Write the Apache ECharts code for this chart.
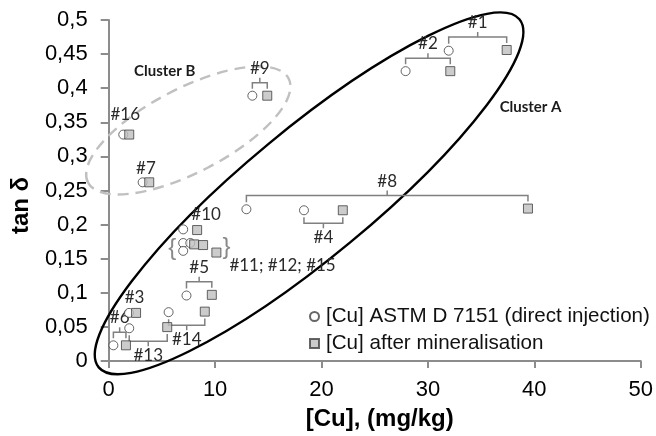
<!DOCTYPE html>
<html>
<head>
<meta charset="utf-8">
<script src="https://cdn.jsdelivr.net/npm/echarts@6/dist/echarts.min.js"></script>
<style>
  html, body { margin: 0; padding: 0; background: #fff; }
  #chart { width: 656px; height: 436px; }
</style>
</head>
<body>
<div id="chart"></div>
<script>
// Samples #1..#16: copper found by direct injection and after mineralisation, vs tan delta
const sampleIds = ['#1', '#2', '#3', '#4', '#5', '#6', '#7', '#8', '#9', '#10', '#11', '#12', '#13', '#14', '#15', '#16'];
const directCu   = [31.95, 27.9, 1.91, 18.35, 7.31, 0.44, 3.19, 12.94, 13.5, 7.0, 7.0, 7.67, 1.93, 5.63, 7.0, 1.37];
const directTan  = [0.455, 0.425, 0.0705, 0.221, 0.096, 0.023, 0.262, 0.2225, 0.389, 0.193, 0.173, 0.173, 0.048, 0.0716, 0.1615, 0.332];
const mineralCu  = [37.4, 32.1, 2.57, 22.0, 9.69, 1.62, 3.81, 39.4, 14.9, 8.31, 8.03, 8.87, 5.5, 9.03, 10.12, 1.93];
const mineralTan = [0.456, 0.425, 0.0705, 0.221, 0.097, 0.023, 0.262, 0.2235, 0.389, 0.192, 0.171, 0.170, 0.0497, 0.0724, 0.159, 0.332];

const seriesNames = ['[Cu] ASTM D 7151 (direct injection)', '[Cu] after mineralisation'];
const xTickLabels = ['0', '10', '20', '30', '40', '50'];
const yTickLabels = ['0', '0,05', '0,1', '0,15', '0,2', '0,25', '0,3', '0,35', '0,4', '0,45', '0,5'];

// Cluster outlines, centred in data units
const clusterNames = ['Cluster A', 'Cluster B'];
const clusterCu  = [18.83, 7.48];
const clusterTan = [0.2458, 0.338];

// ---- annotation layout (pixels) ----
const bracketSide = { '#1': 'up', '#2': 'up', '#4': 'down', '#5': 'up', '#6': 'up', '#8': 'up', '#9': 'up', '#13': 'down', '#14': 'down' };
const plainLabelOffset = { '#3': [2, -15], '#7': [0, -13.5], '#16': [-1, -20], '#10': [16, -15.5] };
const groupedIds = ['#11', '#12', '#15'];
const clusterShape = [
  { rx: 273, ry: 64, angle: 39.6, color: '#000', width: 2.4, dash: null, lx: 221.5, ly: -86 },
  { rx: 113, ry: 42, angle: 27.4, color: '#c0c0c0', width: 2.4, dash: [11, 7], lx: -23.5, ly: -59 }
];

const labelFont = { fontFamily: 'Lato', fontSize: 17, fill: '#2a2a2a' };
const bracketStyle = { stroke: '#808080', lineWidth: 1.5, fill: 'none' };

function text(x, y, str, extra) {
  return {
    type: 'text', x: x, y: y,
    style: Object.assign({ text: str, align: 'center', verticalAlign: 'middle' }, labelFont, extra || {})
  };
}

function renderSampleNote(params, api) {
  const id = sampleIds[params.dataIndex];
  const p1 = api.coord([api.value(0), api.value(1)]);
  const p2 = api.coord([api.value(2), api.value(3)]);
  const children = [];
  const side = bracketSide[id];
  if (side) {
    const dir = side === 'up' ? -1 : 1;
    const yLine = side === 'up' ? Math.min(p1[1], p2[1]) - 13 : Math.max(p1[1], p2[1]) + 13;
    const mid = (p1[0] + p2[0]) / 2;
    children.push({
      type: 'polyline',
      shape: { points: [[p1[0], p1[1] + dir * 7], [p1[0], yLine], [p2[0], yLine], [p2[0], p2[1] + dir * 7]] },
      style: bracketStyle
    });
    children.push({
      type: 'line',
      shape: { x1: mid, y1: yLine, x2: mid, y2: yLine + dir * 5 },
      style: bracketStyle
    });
    children.push(text(mid, yLine + dir * 14.5, id));
  } else if (plainLabelOffset[id]) {
    const off = plainLabelOffset[id];
    children.push(text((p1[0] + p2[0]) / 2 + off[0], (p1[1] + p2[1]) / 2 + off[1], id));
  } else if (id === groupedIds[0]) {
    // one brace pair and one caption for the overlapping group
    const idx = groupedIds.map(g => sampleIds.indexOf(g));
    const pts = [];
    idx.forEach(k => {
      pts.push(api.coord([directCu[k], directTan[k]]));
      pts.push(api.coord([mineralCu[k], mineralTan[k]]));
    });
    const xs = pts.map(p => p[0]), ys = pts.map(p => p[1]);
    const left = Math.min.apply(null, xs), right = Math.max.apply(null, xs);
    const top = Math.min.apply(null, ys), bottom = Math.max.apply(null, ys);
    const cy = (top + bottom) / 2;
    const braceStyle = { fontFamily: 'Liberation Sans', fontSize: 24, fill: '#8a8a8a' };
    children.push(text(left - 11, cy + 1, '{', braceStyle));
    children.push(text(right + 10, cy, '}', braceStyle));
    children.push(text(right + 13, bottom + 12.5, groupedIds.join('; '), { align: 'left' }));
  }
  return { type: 'group', children: children };
}

function renderCluster(params, api) {
  const i = params.dataIndex;
  const s = clusterShape[i];
  const c = api.coord([api.value(0), api.value(1)]);
  return {
    type: 'group',
    children: [
      {
        type: 'ellipse', x: c[0], y: c[1], rotation: s.angle * Math.PI / 180,
        shape: { cx: 0, cy: 0, rx: s.rx, ry: s.ry },
        style: { fill: 'none', stroke: s.color, lineWidth: s.width, lineDash: s.dash }
      },
      text(c[0] + s.lx, c[1] + s.ly, clusterNames[i], { fontFamily: 'Lato', fontWeight: 'bold', fontSize: 15, fill: '#1b1b1b' })
    ]
  };
}

const chart = echarts.init(document.getElementById('chart'), null, { renderer: 'canvas' });

const axisGray = '#8c8c8c';

chart.setOption({
  animation: false,
  backgroundColor: '#fff',
  grid: { left: 108.7, right: 14.3, top: 20, bottom: 73.7, containLabel: false },
  legend: {
    data: seriesNames,
    orient: 'vertical',
    left: 304, top: 301,
    itemWidth: 9, itemHeight: 9, itemGap: 6,
    textStyle: { fontFamily: 'Liberation Sans', fontSize: 20.6, color: '#111', padding: [0, 0, 0, 2] }
  },
  xAxis: {
    type: 'value', min: 0, max: 50, interval: 10,
    name: '[Cu], (mg/kg)', nameLocation: 'middle', nameGap: 46,
    nameTextStyle: { fontFamily: 'Liberation Sans', fontWeight: 'bold', fontSize: 24, color: '#000', padding: [0, 0, 0, 10] },
    axisLine: { show: true, lineStyle: { color: axisGray, width: 2 } },
    axisTick: { show: true, length: 7, lineStyle: { color: axisGray, width: 2 } },
    axisLabel: { margin: 18, fontFamily: 'Liberation Sans', fontSize: 22, color: '#000',
      formatter: v => xTickLabels[Math.round(v / 10)] },
    splitLine: { show: false }
  },
  yAxis: {
    type: 'value', min: 0, max: 0.5, interval: 0.05,
    name: 'tan δ', nameLocation: 'middle', nameGap: 75,
    nameTextStyle: { fontFamily: 'Liberation Sans', fontWeight: 'bold', fontSize: 24, color: '#000', padding: [0, 30, 0, 0] },
    axisLine: { show: true, lineStyle: { color: axisGray, width: 2 } },
    axisTick: { show: true, length: 8, lineStyle: { color: axisGray, width: 2 } },
    axisLabel: { margin: 21, fontFamily: 'Liberation Sans', fontSize: 22, color: '#000',
      formatter: v => yTickLabels[Math.round(v / 0.05)] },
    splitLine: { show: false }
  },
  series: [
    {
      type: 'custom', name: 'clusters', clip: false, z: 1, silent: true,
      renderItem: renderCluster,
      data: clusterCu.map((x, i) => [x, clusterTan[i]])
    },
    {
      type: 'custom', name: 'notes', clip: false, z: 2, silent: true,
      renderItem: renderSampleNote,
      encode: { x: 0, y: 1 },
      data: sampleIds.map((id, i) => [directCu[i], directTan[i], mineralCu[i], mineralTan[i]])
    },
    {
      type: 'scatter', name: seriesNames[0], z: 3,
      symbol: 'circle', symbolSize: 9,
      itemStyle: { color: '#fff', borderColor: '#404040', borderWidth: 1 },
      data: directCu.map((x, i) => [x, directTan[i]])
    },
    {
      type: 'scatter', name: seriesNames[1], z: 4,
      symbol: 'rect', symbolSize: 9,
      itemStyle: { color: '#bfbfbf', borderColor: '#404040', borderWidth: 1 },
      data: mineralCu.map((x, i) => [x, mineralTan[i]])
    }
  ]
});
</script>
</body>
</html>
